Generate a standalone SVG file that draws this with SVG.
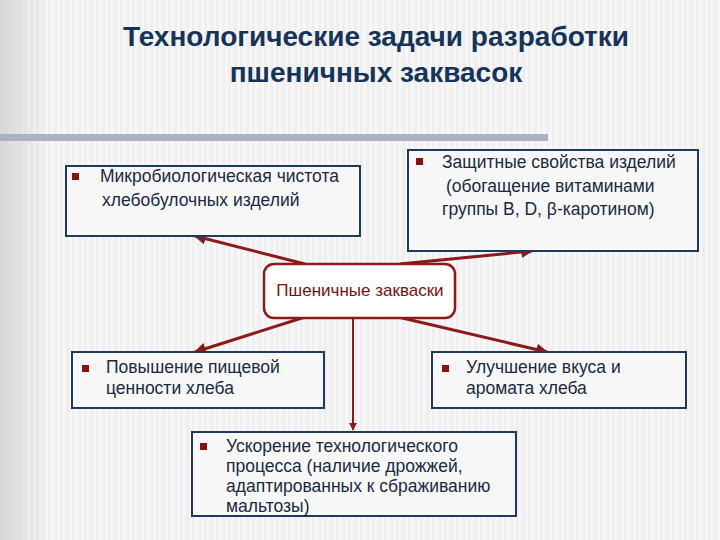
<svg xmlns="http://www.w3.org/2000/svg" width="720" height="540" viewBox="0 0 720 540">
<defs>
<pattern id="stripes" width="6" height="10" patternUnits="userSpaceOnUse"><rect width="6" height="10" fill="#f7f7f7"/><rect width="3" height="10" fill="#efefef"/></pattern>
<linearGradient id="lft" x1="0" x2="1"><stop offset="0" stop-color="#d8d8d8"/><stop offset="1" stop-color="#d8d8d8" stop-opacity="0"/></linearGradient>
<marker id="ah" viewBox="0 0 10 10" refX="9" refY="5" markerWidth="4" markerHeight="4" orient="auto"><path d="M0,0 L10,5 L0,10 z" fill="#8b1a1a"/></marker>
<style>
.box{fill:#f8f8f8;stroke:#1f3a5f;stroke-width:2}
.t{font-family:"Liberation Sans",Arial,sans-serif;font-size:17.5px;fill:#1a2a44}
.b{fill:#8b1010}
.c{stroke:#8b1a1a;stroke-width:3;fill:none;marker-end:url(#ah)}
</style>
</defs>
<rect width="720" height="540" fill="url(#stripes)"/>
<rect width="50" height="540" fill="url(#lft)"/>
<rect x="0" y="134" width="548" height="7" fill="#a9b4c2"/>
<text x="376" y="46" text-anchor="middle" font-family="Liberation Sans,Arial,sans-serif" font-weight="bold" font-size="28" fill="#163457">Технологические задачи разработки</text>
<text x="376" y="82" text-anchor="middle" font-family="Liberation Sans,Arial,sans-serif" font-weight="bold" font-size="28" fill="#163457">пшеничных заквасок</text>
<g id="connectors">
<line class="c" x1="305" y1="264" x2="195" y2="236"/>
<line class="c" x1="400" y1="264" x2="532" y2="251"/>
<line class="c" x1="305" y1="317" x2="195" y2="352"/>
<line class="c" x1="398" y1="317" x2="547" y2="352"/>
<line x1="353" y1="318" x2="353" y2="430" stroke="#8b1a1a" stroke-width="2" marker-end="url(#ah)"/>
</g>
<g id="n1"><rect class="box" x="66" y="166" width="294" height="70"/><rect class="b" x="72" y="173" width="7" height="7"/><text class="t" x="100" y="182">Микробиологическая чистота</text><text class="t" x="102" y="206">хлебобулочных изделий</text></g>
<g id="n2"><rect class="box" x="408" y="150" width="290" height="101"/><rect class="b" x="416" y="158" width="7" height="7"/><text class="t" x="442" y="168">Защитные свойства изделий</text><text class="t" x="446" y="192">(обогащение витаминами</text><text class="t" x="442" y="215">группы В, D, β-каротином)</text></g>
<g id="n0"><rect x="264" y="264" width="191" height="54" rx="10" fill="#fff" stroke="#8b1a1a" stroke-width="2.5"/><text x="360" y="296" text-anchor="middle" font-family="Liberation Sans,Arial,sans-serif" font-size="17" fill="#7a1010">Пшеничные закваски</text></g>
<g id="n3"><rect class="box" x="72" y="352" width="252" height="56"/><rect class="b" x="82" y="365" width="7" height="7"/><text class="t" x="106" y="373">Повышение пищевой</text><text class="t" x="106" y="394">ценности хлеба</text></g>
<g id="n4"><rect class="box" x="432" y="352" width="254" height="56"/><rect class="b" x="442" y="365" width="7" height="7"/><text class="t" x="466" y="373">Улучшение вкуса и</text><text class="t" x="466" y="394">аромата хлеба</text></g>
<g id="n5"><rect class="box" x="192" y="432" width="324" height="84"/><rect class="b" x="200" y="443" width="7" height="7"/><text class="t" x="226" y="452">Ускорение технологического</text><text class="t" x="226" y="472">процесса (наличие дрожжей,</text><text class="t" x="226" y="492">адаптированных к сбраживанию</text><text class="t" x="226" y="512">мальтозы)</text></g>
</svg>
